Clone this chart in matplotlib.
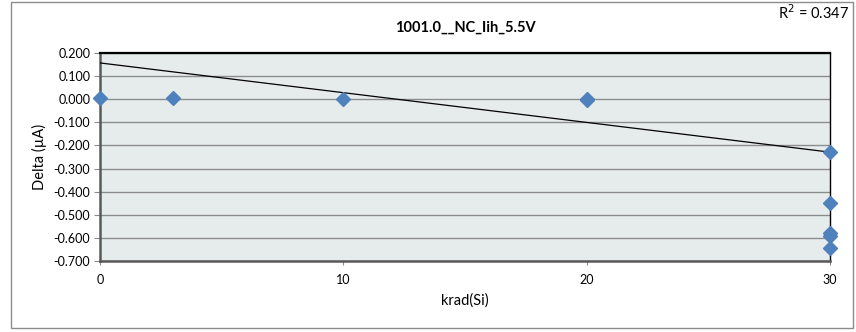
import matplotlib.pyplot as plt
from matplotlib.patches import Rectangle

# Data
dose = [0, 3, 10, 20, 20, 30, 30, 30, 30, 30]  # krad(Si)
delta = [0.005, 0.005, 0.001, 0.003, -0.004, -0.230, -0.447, -0.578, -0.593, -0.645]  # uA

# Linear trendline end points as drawn
trend_x = [0, 30]
trend_y = [0.157, -0.229]
r2_text = "R$^2$ = 0.347"

title = "1001.0__NC_Iih_5.5V"
y_ticks = [0.2, 0.1, 0.0, -0.1, -0.2, -0.3, -0.4, -0.5, -0.6, -0.7]
x_ticks = [0, 10, 20, 30]

plt.rcParams['font.family'] = ['Lato', 'DejaVu Sans']

fig = plt.figure(figsize=(8.56, 3.32), dpi=100)
ax = fig.add_axes([100 / 856, 1 - 261 / 332, 730 / 856, 208 / 332])

# outer chart border
fig.patches.append(Rectangle((11 / 856, 4 / 332), 842 / 856, 326 / 332,
                             transform=fig.transFigure, fill=False,
                             edgecolor='#8c8c8c', linewidth=1))

ax.set_facecolor('#e6ecec')
ax.set_xlim(0, 30)
ax.set_ylim(-0.7, 0.2)
ax.set_yticks(y_ticks)
ax.set_yticklabels([f"{v:.3f}" for v in y_ticks])
ax.set_xticks(x_ticks)
ax.grid(axis='y', color='#8c8c8c', linewidth=1)
ax.set_axisbelow(True)

ax.plot(trend_x, trend_y, color='black', linewidth=0.9, zorder=3)
ax.plot(dose, delta, linestyle='none', marker='D', markersize=7,
        color='#4f81bd', clip_on=False, zorder=4)

for side in ['top', 'right']:
    ax.spines[side].set_color('black')
    ax.spines[side].set_linewidth(1)
ax.spines['top'].set_linewidth(1.6)
for side in ['left', 'bottom']:
    ax.spines[side].set_color('#595959')
    ax.spines[side].set_linewidth(1.8)

ax.tick_params(axis='y', direction='out', length=4, color='#8c8c8c', labelsize=9, pad=3)
ax.tick_params(axis='x', direction='out', length=3, color='#8c8c8c', labelsize=9, pad=6)

ax.set_ylabel("Delta (µA)", fontsize=10.5, labelpad=5)
ax.set_xlabel("krad(Si)", fontsize=10.5, labelpad=6)
ax.set_title(title, fontsize=10.5, fontweight='bold', pad=15)

fig.text(849 / 856, 1 - 13 / 332, r2_text, ha='right', va='center', fontsize=10.5)

fig.savefig('out.png', dpi=100)
